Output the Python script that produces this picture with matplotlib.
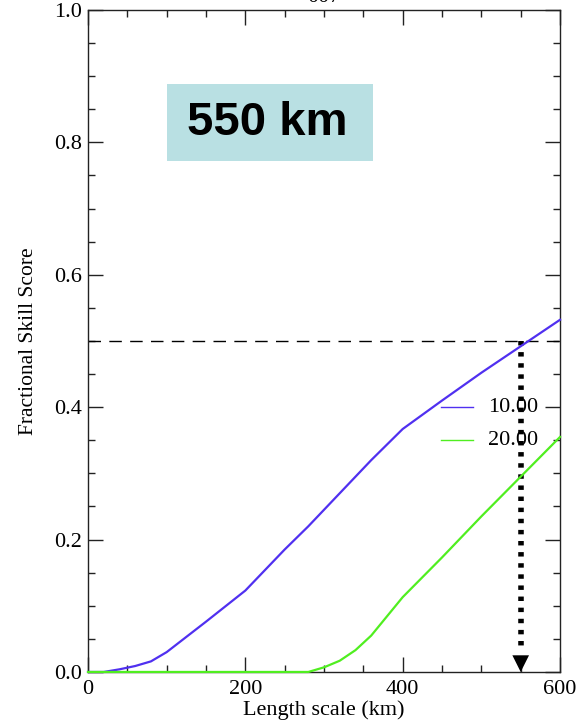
import numpy as np
import matplotlib.pyplot as plt
from matplotlib.patches import Rectangle
from matplotlib.ticker import MultipleLocator

# Fractional skill score vs length scale for two thresholds
length_km = [0, 20, 40, 60, 80, 100, 150, 200, 250, 280, 300, 320, 340, 360,
             400, 450, 500, 550, 600]
fss_10 = [0.0, 0.0, 0.004, 0.009, 0.016, 0.03, 0.076, 0.123, 0.185, 0.22,
          0.245, 0.27, 0.295, 0.32, 0.367, 0.41, 0.452, 0.492, 0.532]
fss_20 = [0.0, 0.0, 0.0, 0.0, 0.0, 0.0, 0.0, 0.0, 0.0, 0.0,
          0.007, 0.017, 0.033, 0.055, 0.113, 0.173, 0.235, 0.295, 0.355]
labels = ['10.00', '20.00']
colors = ['#5030f0', '#50ee20']

skill_target = 0.5
scale_found = 550

plt.rcParams['font.family'] = ['Liberation Serif', 'DejaVu Serif']

fig = plt.figure(figsize=(5.81, 7.27), dpi=100)
ax = fig.add_axes([0.1515, 0.0757, 0.8124, 0.9106])

for ys, c in zip([fss_10, fss_20], colors):
    ax.plot(length_km, ys, color=c, lw=1.6, clip_on=False, zorder=3)

# legend drawn inside the plot as short line + label
for i, (lab, c) in enumerate(zip(labels, colors)):
    yy = 0.40 - 0.05 * i
    ax.plot([449, 489], [yy, yy], color=c, lw=1.0)
    ax.text(508, yy, lab, fontsize=16, va='center', ha='left')

# target score line and arrow down to the length scale
ax.plot([0, 600], [skill_target, skill_target], color='black', lw=1.0,
        dashes=(9, 6))
ax.plot([scale_found, scale_found], [skill_target, 0.03], color='black',
        lw=4, dashes=(0.8, 1.2))
ax.annotate('', xy=(scale_found, 0.0), xytext=(scale_found, 0.04),
            arrowprops=dict(arrowstyle='-|>', color='black', lw=0,
                            mutation_scale=30, shrinkA=0, shrinkB=0),
            zorder=4)

# highlighted answer box
ax.add_patch(Rectangle((0.1674, 0.772), 0.4364, 0.116, transform=ax.transAxes,
                       fc='#b9e0e3', ec='none', zorder=1))
ax.text(0.379, 0.829, f'{scale_found} km', transform=ax.transAxes,
        fontsize=34, fontweight='bold', family='Liberation Sans',
        va='center', ha='center', zorder=2)

ax.set_xlim(0, 600)
ax.set_ylim(0, 1.0)
ax.xaxis.set_major_locator(MultipleLocator(200))
ax.xaxis.set_minor_locator(MultipleLocator(50))
ax.yaxis.set_major_locator(MultipleLocator(0.2))
ax.yaxis.set_minor_locator(MultipleLocator(0.05))
ax.yaxis.set_major_formatter(lambda v, p: f'{v:.1f}')
ax.tick_params(which='both', direction='in', top=True, right=True,
               labelsize=16, width=1.0, color='#222222')
ax.tick_params(which='major', length=11)
ax.tick_params(which='minor', length=5)
ax.tick_params(axis='x', which='major', pad=6)
ax.tick_params(axis='y', which='major', pad=4)
for s in ax.spines.values():
    s.set_linewidth(1.0)
    s.set_color('#222222')

ax.set_xlabel('Length scale (km)', fontsize=16, labelpad=1)
ax.set_ylabel('Fractional Skill Score', fontsize=15.5, labelpad=12)
ax.set_title('007', fontsize=16, pad=6)

fig.savefig('out.png', dpi=100)
